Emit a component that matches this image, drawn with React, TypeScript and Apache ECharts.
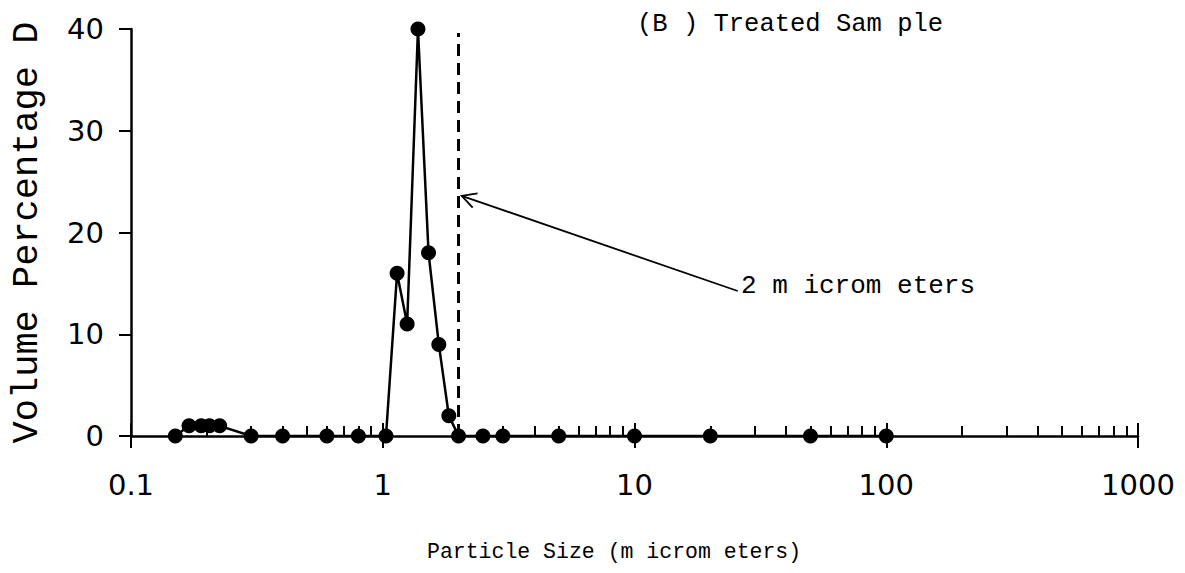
import React, { useEffect, useRef } from "react";
import * as echarts from "echarts";

// Particle size (micrometers) and volume percentage
const particleSize = [0.15, 0.17, 0.19, 0.205, 0.225, 0.3, 0.4, 0.6, 0.8, 1.03, 1.14, 1.25, 1.38, 1.52, 1.67, 1.83, 2.0, 2.5, 3, 5, 10, 20, 50, 100];
const volumePct = [0, 1, 1, 1, 1, 0, 0, 0, 0, 0, 16, 11, 40, 18, 9, 2, 0, 0, 0, 0, 0, 0, 0, 0];

const xMajorTicks = [0.1, 1, 10, 100, 1000];
const xMinorTicks = [
  0.2, 0.3, 0.4, 0.5, 0.6, 0.7, 0.8, 0.9,
  2, 3, 4, 5, 6, 7, 8, 9,
  20, 30, 40, 50, 60, 70, 80, 90,
  200, 300, 400, 500, 600, 700, 800, 900,
];
const yMin = 0;
const yMax = 40;
const yStep = 10;

// 2-micrometer cut-off marker and its arrow annotation
const cutoffSize = 2;
const cutoffTop = 39.6;
const arrowTail = [25.7, 14.25];
const arrowTip = [2.06, 23.6];

const titleText = "(B ) Treated Sam ple";
const arrowLabel = "2 m icrom eters";
const xName = "Particle Size (m icrom eters)";
const yName = "Volume Percentage D";

const mono = "'Liberation Mono', 'DejaVu Sans Mono', monospace";
const sans = "'DejaVu Sans', Verdana, sans-serif";

export default function App() {
  const ref = useRef<HTMLDivElement>(null);

  useEffect(() => {
    if (!ref.current) return;
    const chart = echarts.init(ref.current, undefined, { renderer: "svg" });
    const fmt = (v: number) => String(Number(v.toPrecision(6)));
    const black = "#000";

    const option: any = {
      animation: false,
      backgroundColor: "#fff",
      grid: { left: 127, right: 47, top: 29, bottom: 137 },
      xAxis: [
        {
          type: "log",
          logBase: 10,
          min: 0.1,
          max: 1000,
          position: "bottom",
          axisLine: { show: true, lineStyle: { color: black, width: 2.5 } },
          axisTick: { show: true, inside: false, length: 12, customValues: xMajorTicks, lineStyle: { color: black, width: 2 } },
          axisLabel: { customValues: xMajorTicks, formatter: fmt, color: black, fontFamily: sans, fontSize: 29, margin: 34 },
          splitLine: { show: false },
          minorTick: { show: false },
        },
        {
          type: "log",
          logBase: 10,
          min: 0.1,
          max: 1000,
          position: "bottom",
          axisLine: { show: false },
          axisTick: { show: true, inside: true, length: 10, customValues: xMinorTicks, lineStyle: { color: black, width: 2 } },
          axisLabel: { show: false },
          splitLine: { show: false },
        },
        {
          type: "log",
          logBase: 10,
          min: 0.1,
          max: 1000,
          position: "bottom",
          axisLine: { show: false },
          axisTick: { show: true, inside: true, length: 13, customValues: xMajorTicks, lineStyle: { color: black, width: 2 } },
          axisLabel: { show: false },
          splitLine: { show: false },
        },
      ],
      yAxis: {
        type: "value",
        min: yMin,
        max: yMax,
        interval: yStep,
        axisLine: { show: true, lineStyle: { color: black, width: 2.5 } },
        axisTick: { show: true, length: 12, lineStyle: { color: black, width: 2 } },
        axisLabel: { color: black, fontFamily: sans, fontSize: 29, margin: 27 },
        splitLine: { show: false },
        name: yName,
        nameLocation: "middle",
        nameGap: 86,
        nameTextStyle: { color: black, fontFamily: mono, fontSize: 37 },
      },
      series: [
        {
          type: "line",
          xAxisIndex: 0,
          data: particleSize.map((s, i) => [s, volumePct[i]]),
          symbol: "circle",
          symbolSize: 15,
          itemStyle: { color: black },
          lineStyle: { color: black, width: 2.5 },
          z: 3,
        },
        {
          type: "line",
          xAxisIndex: 0,
          data: [[cutoffSize, yMin], [cutoffSize, cutoffTop]],
          symbol: "none",
          lineStyle: { color: black, width: 3, type: [12, 7] },
          z: 2,
        },
      ],
    };
    chart.setOption(option);

    const tip = chart.convertToPixel({ seriesIndex: 0 }, arrowTip) as number[];
    const tail = chart.convertToPixel({ seriesIndex: 0 }, arrowTail) as number[];
    const ang = Math.atan2(tail[1] - tip[1], tail[0] - tip[0]);
    const hl = 16;
    const spread = (28 * Math.PI) / 180;
    const h1 = [tip[0] + hl * Math.cos(ang + spread), tip[1] + hl * Math.sin(ang + spread)];
    const h2 = [tip[0] + hl * Math.cos(ang - spread), tip[1] + hl * Math.sin(ang - spread)];

    chart.setOption({
      graphic: [
        {
          type: "line",
          shape: { x1: tail[0], y1: tail[1], x2: tip[0], y2: tip[1] },
          style: { stroke: black, lineWidth: 1.8 },
        },
        {
          type: "polyline",
          shape: { points: [h1, tip, h2] },
          style: { stroke: black, lineWidth: 1.8, fill: "none" },
        },
        {
          type: "text",
          x: 637,
          y: 24,
          style: { text: titleText, fill: black, font: `25.5px ${mono}`, verticalAlign: "middle", align: "left" },
        },
        {
          type: "text",
          x: 741,
          y: 286,
          style: { text: arrowLabel, fill: black, font: `26px ${mono}`, verticalAlign: "middle", align: "left" },
        },
        {
          type: "text",
          x: 427,
          y: 552,
          style: { text: xName, fill: black, font: `21.5px ${mono}`, verticalAlign: "middle", align: "left" },
        },
      ],
    });

    return () => chart.dispose();
  }, []);

  return (
    <div
      ref={ref}
      style={{ position: "fixed", left: 0, top: 0, width: 1185, height: 573, background: "#fff" }}
    />
  );
}
